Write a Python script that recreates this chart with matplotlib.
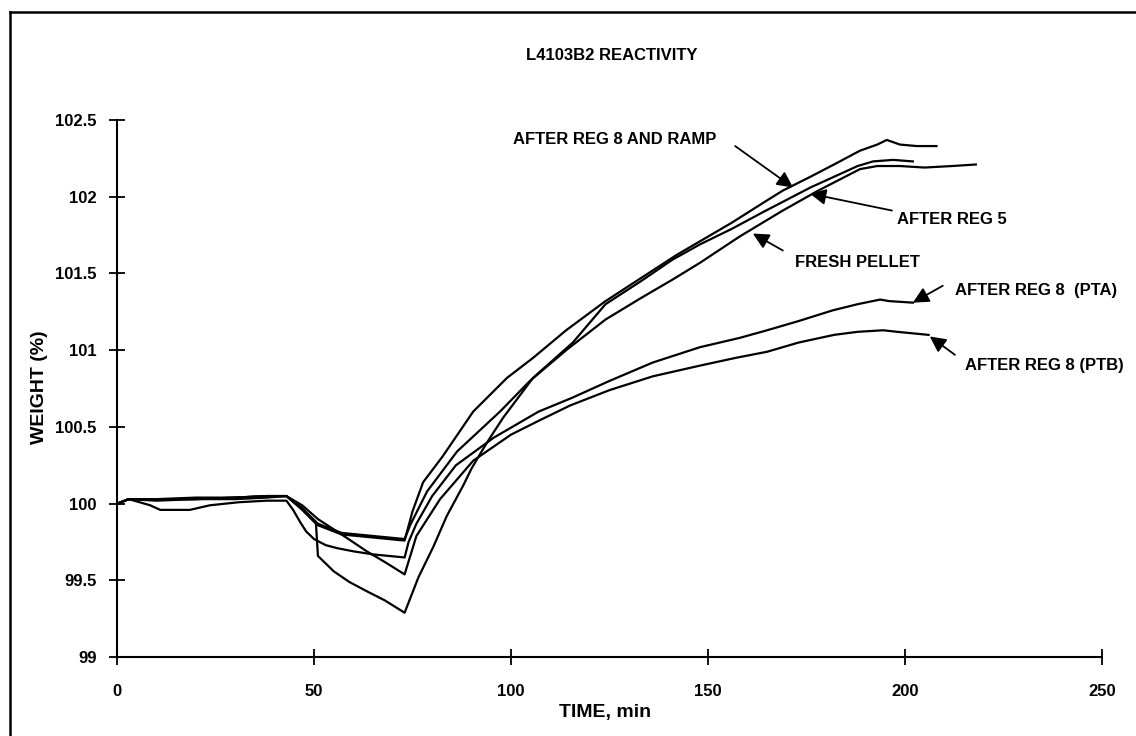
import matplotlib
matplotlib.use('Agg')
import matplotlib.pyplot as plt
from matplotlib.lines import Line2D

plt.rcParams['font.family'] = ['Liberation Sans', 'DejaVu Sans']
plt.rcParams['font.weight'] = 'bold'

ramp_t = [0, 3, 10, 20, 30, 38, 43, 47, 51, 57, 65, 73, 75, 77.7, 82.7, 90.4, 99, 105.6,
          114, 124, 133, 142, 148, 156, 164, 169, 176, 182, 188.6, 193, 195.4, 198.7, 203, 208]
ramp_w = [100.0, 100.03, 100.03, 100.03, 100.04, 100.05, 100.05, 99.97, 99.86, 99.80, 99.78,
          99.76, 99.95, 100.14, 100.31, 100.60, 100.82, 100.95, 101.13, 101.32, 101.47, 101.62,
          101.71, 101.83, 101.96, 102.04, 102.13, 102.21, 102.30, 102.34, 102.37, 102.34,
          102.33, 102.33]

reg5_t = [0, 3, 10, 20, 30, 38, 43, 47, 50.5, 51, 55, 59, 63.4, 68, 73, 76.5, 80.3, 83.7,
          87.9, 90, 93, 94.7, 98, 105.6, 115.7, 124, 133, 141, 148, 156, 164, 170, 176, 182,
          188, 191.9, 197, 202]
reg5_w = [100.0, 100.03, 100.03, 100.04, 100.04, 100.05, 100.05, 99.96, 99.87, 99.66, 99.56,
          99.49, 99.43, 99.37, 99.29, 99.52, 99.72, 99.92, 100.12, 100.23, 100.36, 100.43,
          100.56, 100.82, 101.05, 101.30, 101.45, 101.59, 101.69, 101.79, 101.90, 101.98,
          102.06, 102.13, 102.20, 102.23, 102.24, 102.23]

fresh_t = [0, 3, 10, 20, 30, 38, 43, 47, 51, 57, 65, 73, 74.4, 78.7, 86.3, 97.2, 104.8, 114,
           124, 133, 141, 148, 158, 169, 178, 188.6, 193, 198.7, 205, 212, 218]
fresh_w = [100.0, 100.03, 100.02, 100.03, 100.03, 100.04, 100.05, 99.97, 99.87, 99.81, 99.79,
           99.77, 99.86, 100.08, 100.34, 100.60, 100.80, 101.0, 101.2, 101.34, 101.46, 101.57,
           101.74, 101.91, 102.04, 102.18, 102.20, 102.20, 102.19, 102.20, 102.21]

pta_t = [0, 3, 8.4, 11, 18.5, 23.6, 31, 38, 41.4, 43, 44.7, 46.5, 48, 50, 53, 56, 60, 65, 73,
         74, 76, 80, 86, 95.6, 107, 115.5, 125, 136, 148, 158, 165, 173, 181.7, 188, 193.7,
         196, 202]
pta_w = [100.0, 100.03, 99.99, 99.96, 99.96, 99.99, 100.01, 100.02, 100.02, 100.02, 99.96,
         99.88, 99.82, 99.77, 99.73, 99.71, 99.69, 99.67, 99.65, 99.75, 99.87, 100.05, 100.25,
         100.43, 100.60, 100.69, 100.80, 100.92, 101.02, 101.08, 101.13, 101.19, 101.26,
         101.30, 101.33, 101.32, 101.31]

ptb_t = [0, 3, 10, 20, 30, 38, 43, 47, 51, 57, 63.4, 68, 73, 76, 82, 90.4, 100, 107, 115,
         125, 136, 148, 157, 165, 173, 182, 188, 194.5, 198, 202, 206]
ptb_w = [100.0, 100.03, 100.03, 100.03, 100.04, 100.05, 100.05, 99.99, 99.90, 99.80, 99.69,
         99.62, 99.54, 99.79, 100.03, 100.28, 100.45, 100.54, 100.64, 100.74, 100.83, 100.90,
         100.95, 100.99, 101.05, 101.10, 101.12, 101.13, 101.12, 101.11, 101.10]

x_ticks = [0, 50, 100, 150, 200, 250]
y_ticks = [99, 99.5, 100, 100.5, 101, 101.5, 102, 102.5]
y_tick_labels = ['99', '99.5', '100', '100.5', '101', '101.5', '102', '102.5']

fig = plt.figure(figsize=(11.36, 7.36), dpi=100)
ax = fig.add_axes([0.103, 0.107, 0.867, 0.730])

for t, w in [(ramp_t, ramp_w), (reg5_t, reg5_w), (fresh_t, fresh_w),
             (pta_t, pta_w), (ptb_t, ptb_w)]:
    ax.plot(t, w, color='black', lw=1.6)

ax.set_xlim(0, 250)
ax.set_ylim(99, 102.5)
ax.set_xticks(x_ticks)
ax.set_yticks(y_ticks)
ax.set_yticklabels(y_tick_labels)
for s in ['top', 'right']:
    ax.spines[s].set_visible(False)
for s in ['left', 'bottom']:
    ax.spines[s].set_linewidth(1.5)
ax.tick_params(axis='both', direction='inout', length=12, width=1.3, labelsize=12)
ax.tick_params(axis='y', pad=8.5)
ax.tick_params(axis='x', pad=13)

# labels pointing at the curves
arrow = dict(arrowstyle='-|>', color='black', lw=1.3, mutation_scale=24, shrinkA=0, shrinkB=0)
ax.annotate('', xy=(171.6, 102.06), xytext=(156.9, 102.33), arrowprops=arrow)
ax.text(100.5, 102.37, 'AFTER REG 8 AND RAMP', ha='left', va='center', fontsize=12)
ax.annotate('', xy=(175.9, 102.02), xytext=(196.7, 101.91), arrowprops=arrow)
ax.text(198, 101.85, 'AFTER REG 5', ha='left', va='center', fontsize=12)
ax.annotate('', xy=(161.4, 101.76), xytext=(169, 101.65), arrowprops=arrow)
ax.text(172, 101.57, 'FRESH PELLET', ha='left', va='center', fontsize=12)
ax.annotate('', xy=(202, 101.31), xytext=(209.6, 101.42), arrowprops=arrow)
ax.text(212.7, 101.39, 'AFTER REG 8  (PTA)', ha='left', va='center', fontsize=12)
ax.annotate('', xy=(206.3, 101.09), xytext=(212.7, 100.97), arrowprops=arrow)
ax.text(215.2, 100.90, 'AFTER REG 8 (PTB)', ha='left', va='center', fontsize=12)

fig.text(612 / 1136, 1 - 55 / 736, 'L4103B2 REACTIVITY', ha='center', va='center', fontsize=12)
fig.text(40 / 1136, 1 - 387 / 736, 'WEIGHT (%)', rotation=90, ha='center', va='center', fontsize=14)
fig.text(605 / 1136, 1 - 712 / 736, 'TIME, min', ha='center', va='center', fontsize=14)

# page frame (top and left edges visible)
fig.add_artist(Line2D([10 / 1136, 10 / 1136], [0, 1 - 12 / 736], transform=fig.transFigure,
                      color='black', lw=1.8))
fig.add_artist(Line2D([10 / 1136, 1], [1 - 12 / 736, 1 - 12 / 736], transform=fig.transFigure,
                      color='black', lw=1.8))

fig.savefig('out.png', dpi=100)
